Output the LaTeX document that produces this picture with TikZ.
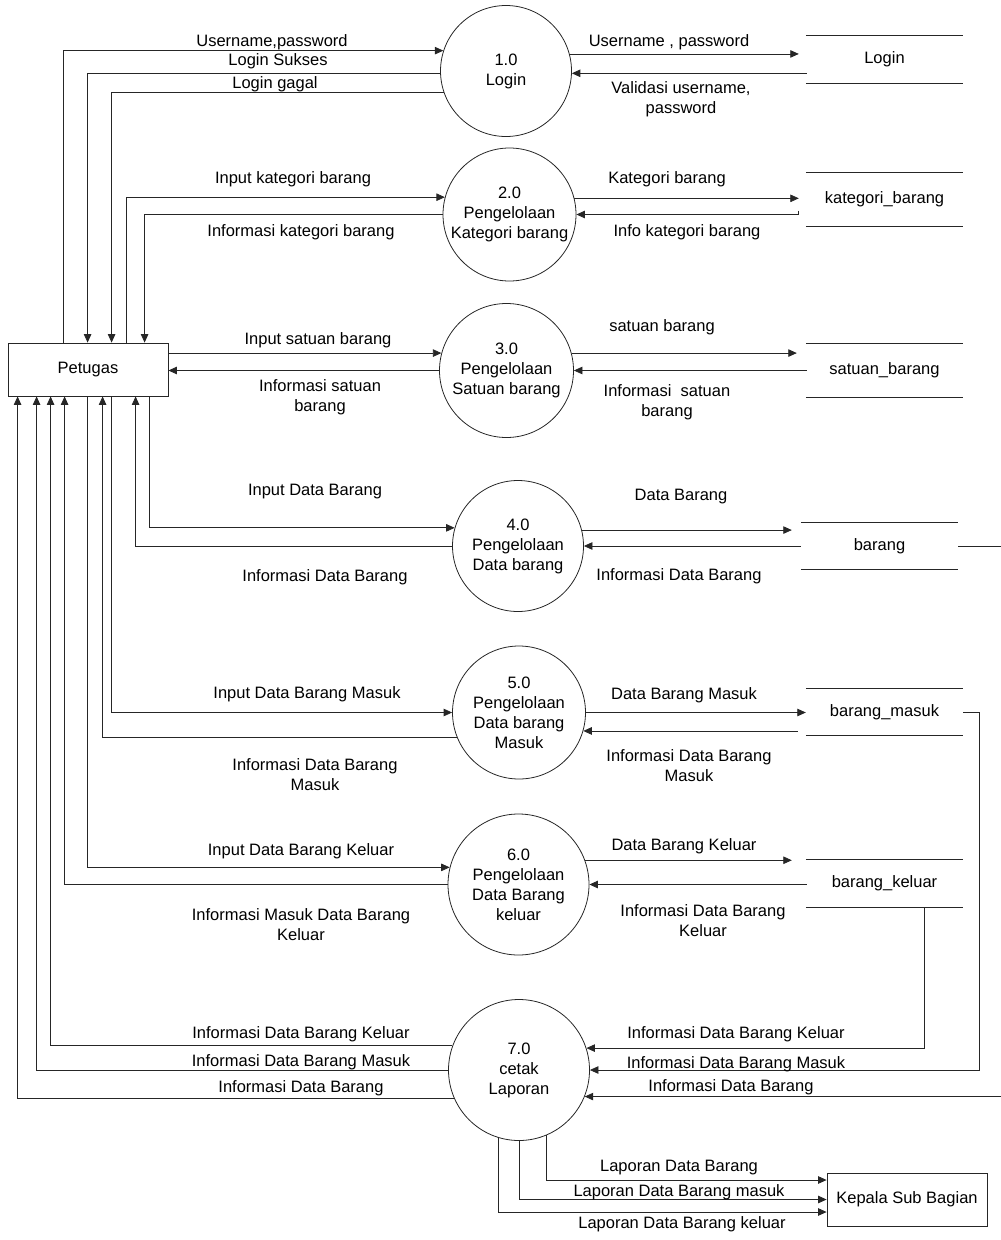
\documentclass[tikz,border=0pt]{standalone}
\usepackage{fontspec}
\setmainfont{Liberation Sans}
\usetikzlibrary{arrows.meta,calc}
\begin{document}
\begin{tikzpicture}[x=1pt,y=-1pt,
  every node/.style={font=\fontsize{16.5}{20}\selectfont},
  proc/.style={draw=black!85, circle, inner sep=0pt, align=center, line width=0.8pt},
  ent/.style={draw=black!85, rectangle, minimum width=160pt, minimum height=53pt, line width=0.8pt},
  store/.style={minimum width=157pt, inner sep=0pt},
  lbl/.style={align=center, inner sep=0pt},
  flow/.style={draw=black!85, line width=0.8pt, -{Triangle[length=8.5pt,width=7.5pt]}},
  wire/.style={draw=black!85, line width=0.8pt}
]
\useasboundingbox (0,0) rectangle (1001,1240);

% entities
\node[ent] (P) at (88,369.5) {Petugas};
\node[ent] (K) at (907,1199.5) {Kepala Sub Bagian};

% processes
\node[proc, minimum size=131pt] (c1) at (506,71) {1.0\\Login};
\node[proc, minimum size=133pt] (c2) at (509.5,214.5) {2.0\\Pengelolaan\\Kategori barang};
\node[proc, minimum size=134pt] (c3) at (506.5,370.5) {3.0\\Pengelolaan\\Satuan barang};
\node[proc, minimum size=131pt] (c4) at (518,546) {4.0\\Pengelolaan\\Data barang};
\node[proc, minimum size=133pt] (c5) at (519,712.5) {5.0\\Pengelolaan\\Data barang\\Masuk};
\node[proc, minimum size=141pt] (c6) at (518.5,884.5) {6.0\\Pengelolaan\\Data Barang\\keluar};
\node[proc, minimum size=141pt] (c7) at (519,1070) {7.0\\cetak\\Laporan};

% data stores
\node[store, minimum height=47pt] (S1) at (884.5,59.5) {Login};
\node[store, minimum height=53pt] (S2) at (884.5,199.5) {kategori\_barang};
\node[store, minimum height=53pt] (S3) at (884.5,370.5) {satuan\_barang};
\node[store, minimum height=46pt] (S4) at (879.5,546) {barang};
\node[store, minimum height=46pt] (S5) at (884.5,712) {barang\_masuk};
\node[store, minimum height=47pt] (S6) at (884.5,883.5) {barang\_keluar};
\foreach \s in {S1,S2,S3,S4,S5,S6}
  \draw[wire] (\s.north west) -- (\s.north east) (\s.south west) -- (\s.south east);

% Petugas <-> processes
\draw[flow] ($(P.north west)+(56,0)$) |- (c1.162);
\draw[flow] (c1.182) -| ($(P.north west)+(80,0)$);
\draw[flow] (c1.199) -| ($(P.north west)+(104,0)$);
\draw[flow] ($(P.north west)+(119,0)$) |- (c2.165);
\draw[flow] (c2.180) -| ($(P.north west)+(137,0)$);
\draw[flow] (P.east |- c3.165) -- (c3.165);
\draw[flow] (c3.180) -- (P.east |- c3.180);
\draw[flow] ($(P.south west)+(142,0)$) |- (c4.164);
\draw[flow] (c4.180) -| ($(P.south west)+(128,0)$);
\draw[flow] ($(P.south west)+(104,0)$) |- (c5.180);
\draw[flow] (c5.202) -| ($(P.south west)+(95,0)$);
\draw[flow] ($(P.south west)+(80,0)$) |- (c6.166);
\draw[flow] (c6.180) -| ($(P.south west)+(57,0)$);
\draw[flow] (c7.160) -| ($(P.south west)+(43,0)$);
\draw[flow] (c7.180) -| ($(P.south west)+(29,0)$);
\draw[flow] (c7.204) -| ($(P.south west)+(10,0)$);

% processes <-> stores
\draw[flow] (c1.15) -- ($(c1.15 -| S1.west)+(-7,0)$);
\draw[flow] ($(c1.358 -| S1.west)+(1,0)$) -- (c1.358);
\draw[flow] (c2.14) -- ($(c2.14 -| S2.west)+(-7,0)$);
\draw[flow] ($(c2.0 -| S2.west)+(-7,-4)$) -- ($(c2.0 -| S2.west)+(-7,0)$) -- (c2.0);
\draw[flow] (c3.15) -- ($(c3.15 -| S3.west)+(-9,0)$);
\draw[flow] ($(c3.0 -| S3.west)+(1,0)$) -- (c3.0);
\draw[flow] (c4.14) -- ($(c4.14 -| S4.west)+(-9,0)$);
\draw[flow] (c4.0 -| S4.west) -- (c4.0);
\draw[flow] (c5.0) -- (c5.0 -| S5.west);
\draw[flow] ($(c5.344 -| S5.west)+(-8,0)$) -- (c5.344);
\draw[flow] (c6.20) -- ($(c6.20 -| S6.west)+(-14,0)$);
\draw[flow] ($(c6.0 -| S6.west)+(1,0)$) -- (c6.0);

% stores -> report process
\draw[flow] ($(S6.south)+(39.5,0)$) |- (c7.18);
\draw[flow] (S5.east) -- ++(16,0) |- (c7.0);
\draw[flow] (S4.east) -- ++(52,0) |- (c7.338);

% report process -> Kepala
\draw[flow] (c7.293) |- ($(K.west)+(0,-19.5)$);
\draw[flow] (c7.270) |- (K.west);
\draw[flow] (c7.253) |- ($(K.west)+(0,12.5)$);

% labels left
\node[lbl] (t1) at (272,42) {Username,password};
\node[lbl] (t2) at (278,61) {Login Sukses};
\node[lbl] (t3) at (275,84) {Login gagal};
\node[lbl] (t4) at (293,179) {Input kategori barang};
\node[lbl] (t5) at (301,232) {Informasi kategori barang};
\node[lbl] (t6) at (318,340) {Input satuan barang};
\node[lbl] (t7) at (320,397) {Informasi satuan\\barang};
\node[lbl] (t8) at (315,492) {Input Data Barang};
\node[lbl] (t9) at (325,577) {Informasi Data Barang};
\node[lbl] (t10) at (307,694) {Input Data Barang Masuk};
\node[lbl] (t11) at (315,775) {Informasi Data Barang\\Masuk};
\node[lbl] (t12) at (301,851) {Input Data Barang Keluar};
\node[lbl] (t13) at (301,925) {Informasi Masuk Data Barang\\Keluar};
\node[lbl] (t14) at (301,1034) {Informasi Data Barang Keluar};
\node[lbl] (t15) at (301,1062) {Informasi Data Barang Masuk};
\node[lbl] (t16) at (301,1088) {Informasi Data Barang};

% labels right
\node[lbl] (r1) at (669,42) {Username , password};
\node[lbl] (r2) at (681,99) {Validasi username,\\password};
\node[lbl] (r3) at (667,179) {Kategori barang};
\node[lbl] (r4) at (687,232) {Info kategori barang};
\node[lbl] (r5) at (662,327) {satuan barang};
\node[lbl] (r6) at (667,402) {Informasi\ \ satuan\\barang};
\node[lbl] (r7) at (681,497) {Data Barang};
\node[lbl] (r8) at (679,576) {Informasi Data Barang};
\node[lbl] (r9) at (684,695) {Data Barang Masuk};
\node[lbl] (r10) at (689,766) {Informasi Data Barang\\Masuk};
\node[lbl] (r11) at (684,846) {Data Barang Keluar};
\node[lbl] (r12) at (703,921) {Informasi Data Barang\\Keluar};
\node[lbl] (r13) at (736,1034) {Informasi Data Barang Keluar};
\node[lbl] (r14) at (736,1064) {Informasi Data Barang Masuk};
\node[lbl] (r15) at (731,1087) {Informasi Data Barang};
\node[lbl] (r16) at (679,1168) {Laporan Data Barang};
\node[lbl] (r17) at (679,1192) {Laporan Data Barang masuk};
\node[lbl] (r18) at (682,1224) {Laporan Data Barang keluar};
\end{tikzpicture}
\end{document}
